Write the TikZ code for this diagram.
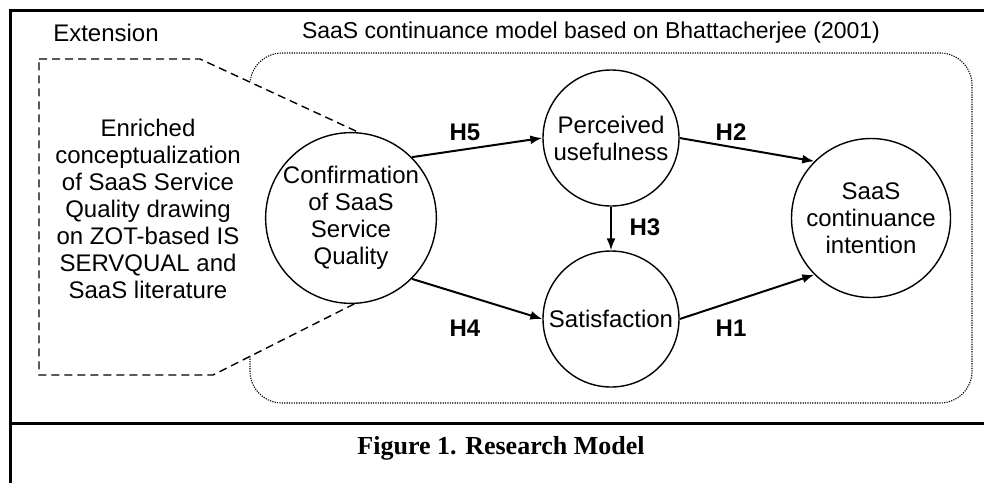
\documentclass[tikz,border=0pt]{standalone}
\usepackage{fontspec}
\setmainfont{Liberation Sans}
\newfontfamily\capfont{Liberation Serif}
\usetikzlibrary{arrows.meta,positioning,backgrounds}
\tikzset{
  >={Latex[length=12pt,width=9pt]},
  mframe/.style={line width=3pt},
  mconst/.style={circle, draw, fill=white, line width=1.4pt, inner sep=0pt,
                 align=center, font=\fontsize{24}{27}\selectfont},
  mhyp/.style={->, line width=2pt},
  mlbl/.style={font=\fontsize{24}{27}\selectfont\bfseries},
  mtxt/.style={font=\fontsize{24}{27}\selectfont, align=center},
  mext/.style={dash pattern=on 8pt off 5pt, line width=1.4pt, fill=white},
  mscope/.style={dash pattern=on 1.2pt off 1.2pt, line width=1.1pt, rounded corners=32pt},
}
\begin{document}
\begin{tikzpicture}[x=1pt,y=-1pt]
  \useasboundingbox (0,0) rectangle (984,483);

  % frame
  \draw[mframe] (10,483) -- (10,10) -- (984,10);
  \draw[mframe] (10,423) -- (984,423);

  \node[mtxt] (exttitle) at (106,33) {Extension};
  \node[mtxt, font=\fontsize{23}{27}\selectfont] (modtitle) at (591,33) {SaaS continuance model based on Bhattacherjee (2001)};

  % constructs
  \node[mconst, minimum size=160pt] (conf) at (351,218) {Confirmation\\of SaaS\\Service\\Quality};
  \node[mconst, minimum size=136pt] (pu) at (611,138) {Perceived\\usefulness};
  \node[mconst, minimum size=136pt] (sat) at (611,319) {Satisfaction};
  \node[mconst, minimum size=159pt] (ci) at (871,218) {SaaS\\continuance\\intention};

  \node[mtxt] (enrich) at (148,209) {Enriched\\conceptualization\\of SaaS Service\\Quality drawing\\on ZOT-based IS\\SERVQUAL and\\SaaS literature};

  \begin{pgfonlayer}{background}
    \draw[mscope] (250,53) rectangle (972,403);
    \draw[mext] (39,59) -- (200,59) -- (conf.85) -- (conf.-88) -- (213,375) -- (39,375) -- cycle;
  \end{pgfonlayer}

  % hypotheses
  \draw[mhyp] (conf.45) -- (pu.west);
  \draw[mhyp] (conf.-45) -- (sat.west);
  \draw[mhyp] (pu.east) -- (ci.135);
  \draw[mhyp] (sat.east) -- (ci.-135);
  \draw[mhyp] (pu.south) -- (sat.north);

  \node[mlbl] (h5) at (465,132) {H5};
  \node[mlbl] (h4) at (465,328) {H4};
  \node[mlbl] (h2) at (731,132) {H2};
  \node[mlbl] (h1) at (731,328) {H1};
  \node[mlbl] (h3) at (645,227) {H3};

  \node[font=\capfont\fontsize{26}{28}\selectfont\bfseries] (cap) at (501,448) {Figure 1. Research Model};

\end{tikzpicture}
\end{document}
